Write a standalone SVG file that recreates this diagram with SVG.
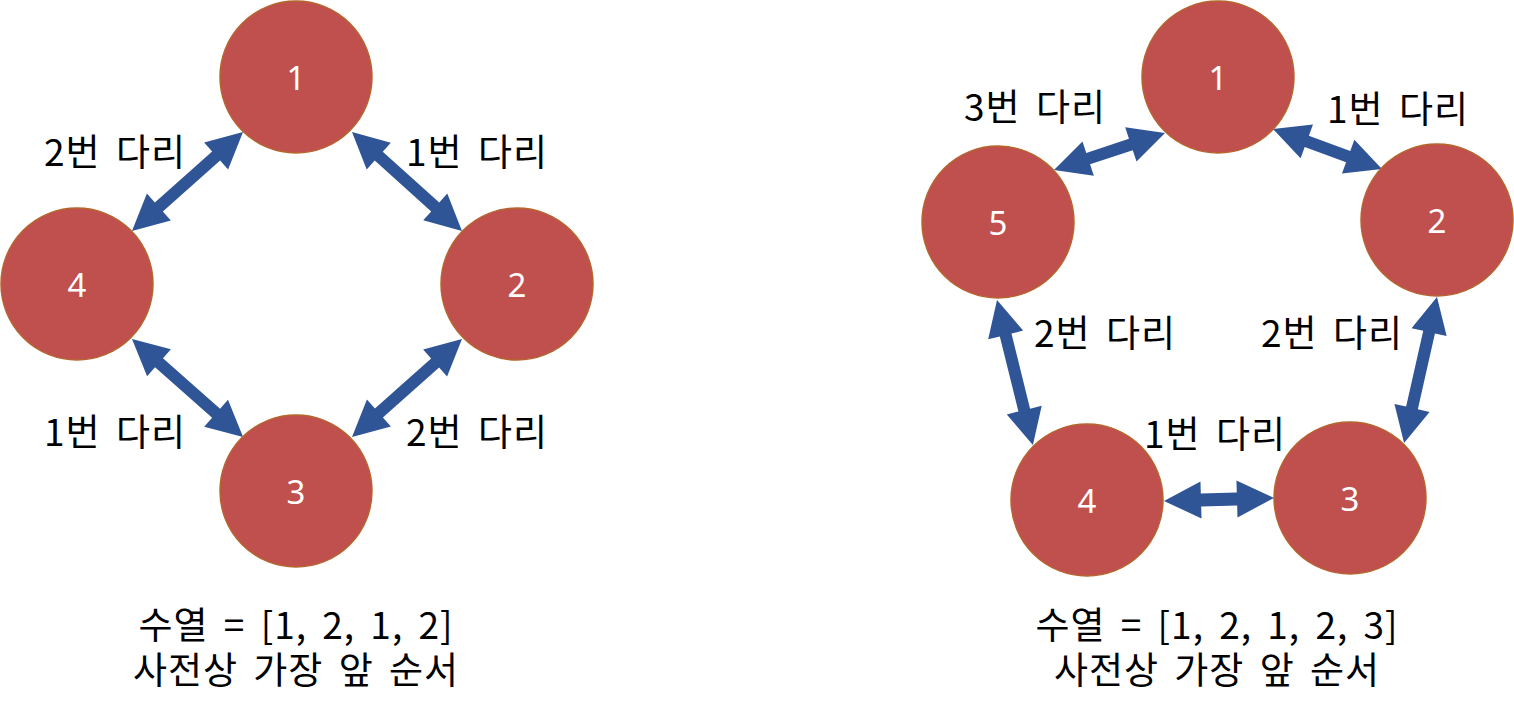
<svg xmlns="http://www.w3.org/2000/svg" width="1514" height="713" viewBox="0 0 1514 713">
<style>
.node circle{fill:#C0504D;stroke:#B5652A;stroke-width:1.5}
.node text{fill:#fff;font-family:"Noto Sans","Noto Sans CJK KR",sans-serif;font-size:33px;text-anchor:middle;dominant-baseline:central}
.arrow{fill:#2F5597}
.lbl{fill:#000;font-family:"Noto Sans CJK KR",sans-serif;font-size:37px;word-spacing:6px;letter-spacing:1px;text-anchor:middle;dominant-baseline:central}
</style>
<rect width="1514" height="713" fill="#fff"/>
<g id="connectors">
<polygon class="arrow" transform="translate(243,132) rotate(138.3)" points="0,0 36,-18 36,-6 112.7,-6 112.7,-18 148.7,0 112.7,18 112.7,6 36,6 36,18"/>
<polygon class="arrow" transform="translate(352,132) rotate(42)" points="0,0 36,-18 36,-6 112,-6 112,-18 148,0 112,18 112,6 36,6 36,18"/>
<polygon class="arrow" transform="translate(132,339) rotate(41.4)" points="0,0 36,-18 36,-6 112.1,-6 112.1,-18 148.1,0 112.1,18 112.1,6 36,6 36,18"/>
<polygon class="arrow" transform="translate(462,339) rotate(138.3)" points="0,0 36,-18 36,-6 111.3,-6 111.3,-18 147.3,0 111.3,18 111.3,6 36,6 36,18"/>
<polygon class="arrow" transform="translate(1054,170) rotate(-18.4)" points="0,0 36,-18 36,-6 81,-6 81,-18 117,0 81,18 81,6 36,6 36,18"/>
<polygon class="arrow" transform="translate(1273,129) rotate(20.2)" points="0,0 36,-18 36,-6 80.1,-6 80.1,-18 116.1,0 80.1,18 80.1,6 36,6 36,18"/>
<polygon class="arrow" transform="translate(997,300) rotate(76.1)" points="0,0 36,-18 36,-6 113.4,-6 113.4,-18 149.4,0 113.4,18 113.4,6 36,6 36,18"/>
<polygon class="arrow" transform="translate(1437,297) rotate(102.7)" points="0,0 36,-18 36,-6 113.7,-6 113.7,-18 149.7,0 113.7,18 113.7,6 36,6 36,18"/>
<polygon class="arrow" transform="translate(1164,501) rotate(-1.6)" points="0,0 37,-18.5 37,-6.5 73,-6.5 73,-18.5 110,0 73,18.5 73,6.5 37,6.5 37,18.5"/>
</g>
<g id="L1" class="node"><circle cx="296" cy="77" r="76"/><text x="296" y="77">1</text></g>
<g id="L2" class="node"><circle cx="517" cy="284" r="76"/><text x="517" y="284">2</text></g>
<g id="L3" class="node"><circle cx="296" cy="491" r="76"/><text x="296" y="491">3</text></g>
<g id="L4" class="node"><circle cx="77" cy="284" r="76"/><text x="77" y="284">4</text></g>
<g id="R1" class="node"><circle cx="1218" cy="77" r="76"/><text x="1218" y="77">1</text></g>
<g id="R2" class="node"><circle cx="1437" cy="220" r="76"/><text x="1437" y="220">2</text></g>
<g id="R3" class="node"><circle cx="1350" cy="498" r="76"/><text x="1350" y="498">3</text></g>
<g id="R4" class="node"><circle cx="1087" cy="500" r="76"/><text x="1087" y="500">4</text></g>
<g id="R5" class="node"><circle cx="998" cy="222" r="76"/><text x="998" y="222">5</text></g>
<g id="labels">
<text class="lbl" x="115" y="150">2번 다리</text>
<text class="lbl" x="477" y="150">1번 다리</text>
<text class="lbl" x="115" y="430">1번 다리</text>
<text class="lbl" x="477" y="430">2번 다리</text>
<text class="lbl" x="1035" y="105">3번 다리</text>
<text class="lbl" x="1398" y="107">1번 다리</text>
<text class="lbl" x="1105" y="331">2번 다리</text>
<text class="lbl" x="1332" y="331">2번 다리</text>
<text class="lbl" x="1215" y="432">1번 다리</text>
<text class="lbl" x="296" y="623">수열 = [1, 2, 1, 2]</text>
<text class="lbl" x="296" y="668">사전상 가장 앞 순서</text>
<text class="lbl" x="1217" y="623">수열 = [1, 2, 1, 2, 3]</text>
<text class="lbl" x="1217" y="668">사전상 가장 앞 순서</text>
</g>
</svg>
